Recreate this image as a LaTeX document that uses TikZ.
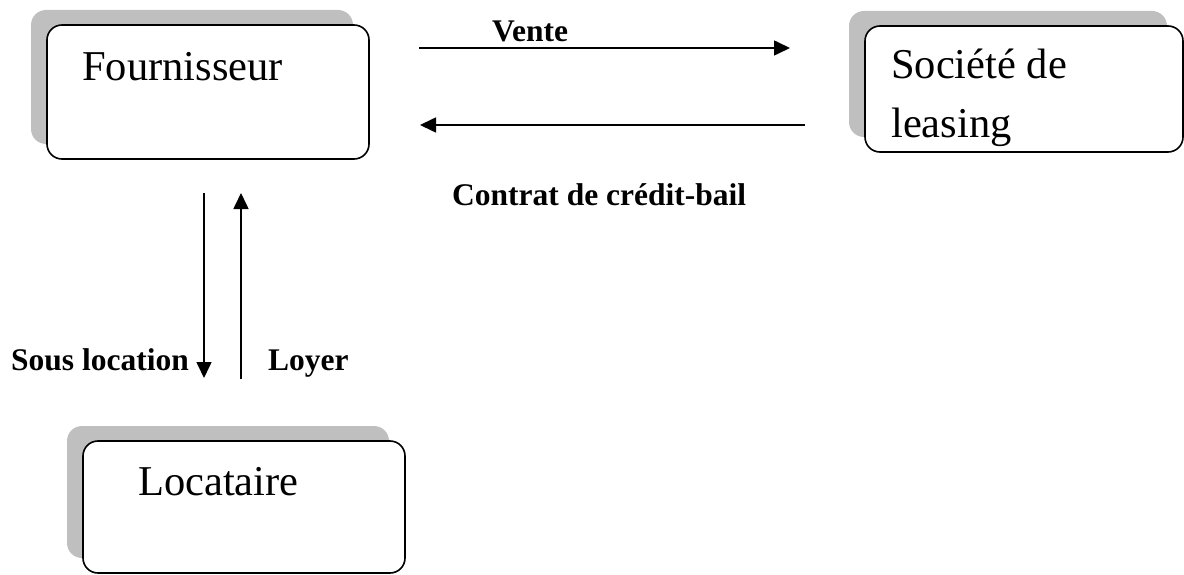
\documentclass[tikz,border=0pt]{standalone}
\usepackage{fontspec}
\setmainfont{Liberation Serif}
\usetikzlibrary{arrows.meta,shadows}
\begin{document}
\begin{tikzpicture}[x=1pt,y=-1pt,
  box/.style={draw=black, line width=1.6pt, fill=white, rounded corners=15pt,
    inner sep=0pt,
    general shadow={fill=black!25, draw=none, shadow xshift=-16pt, shadow yshift=15pt}},
  boxtitle/.style={anchor=base west, inner sep=0pt, font=\fontsize{42.5}{50}\selectfont},
  lbl/.style={anchor=base west, inner sep=0pt, font=\bfseries\fontsize{31.5}{37}\selectfont},
  flow/.style={line width=1.6pt, -{Triangle[length=16pt,width=15pt]}}]
\useasboundingbox (0,0) rectangle (1184,575);

% boxes
\node[box, minimum width=322pt, minimum height=134pt] (four) at (208,92) {};
\node[box, minimum width=318pt, minimum height=126pt] (soc) at (1024,89) {};
\node[box, minimum width=322pt, minimum height=132pt] (loc) at (244,507) {};

% box titles
\node[boxtitle] (tfour) at (82,81) {Fournisseur};
\node[boxtitle] (tsoc1) at (891,79) {Société de};
\node[boxtitle] (tsoc2) at (891,138) {leasing};
\node[boxtitle] (tloc) at (138,495) {Locataire};

% arrow end points
\coordinate (va) at (419,48);
\coordinate (vb) at (790,48);
\coordinate (ca) at (805,125);
\coordinate (cb) at (420,125);
\coordinate (sa) at (204,193);
\coordinate (sb) at (204,378);
\coordinate (la) at (241,379);
\coordinate (lb) at (241,193);

\draw[flow] (va) -- (vb);
\draw[flow] (ca) -- (cb);
\draw[flow] (sa) -- (sb);
\draw[flow] (la) -- (lb);

% labels
\node[lbl] (vente) at (492,42) {Vente};
\node[lbl] (contrat) at (452,205) {Contrat de crédit-bail};
\node[lbl] (sous) at (11,370) {Sous location};
\node[lbl] (loyer) at (268,370) {Loyer};
\end{tikzpicture}
\end{document}
